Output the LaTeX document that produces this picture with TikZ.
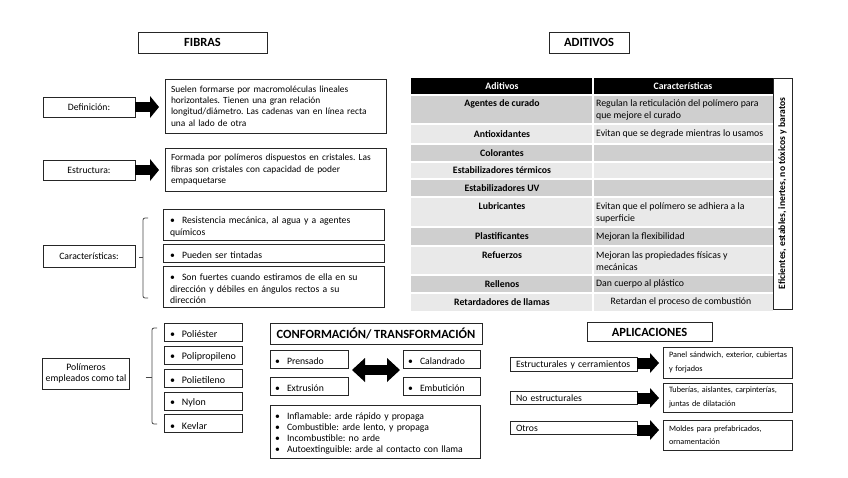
\documentclass[tikz,border=0pt]{standalone}
\usepackage{fontspec}
\setmainfont{Carlito}
\usetikzlibrary{arrows.meta}
\newcommand\bitem[1]{\par\hangindent=12pt\hangafter=1\noindent\makebox[12pt][l]{\textbullet}#1}
\definecolor{rowdark}{HTML}{CFCFCF}
\definecolor{rowlight}{HTML}{E9E9E9}
\definecolor{edge}{HTML}{262626}
\tikzset{
 bx/.style={draw=edge, line width=0.8pt, font=\fontsize{9.7}{11.3}\selectfont, inner ysep=0pt, outer sep=0pt},
 ttl/.style={bx, font=\fontsize{12.5}{14}\selectfont\bfseries, align=center},
 cbox/.style={bx, align=center},
 lbox/.style={bx, align=left},
 rbox/.style={lbox, font=\fontsize{8.2}{13.5}\selectfont, inner xsep=6pt, text width=117pt},
 brk/.style={draw=edge!85, line width=0.8pt, rounded corners=2pt},
 cellb/.style={font=\fontsize{9.8}{12}\selectfont\bfseries, inner sep=0pt},
 cellr/.style={font=\fontsize{9.8}{12}\selectfont, inner sep=0pt, align=left, anchor=west},
 bigarrow/.style={draw=black, line width=10pt, -{Triangle[length=9pt,width=22pt,line width=0pt]}, shorten >=6pt},
 apparrow/.style={draw=black, line width=11pt, -{Triangle[length=9pt,width=20pt,line width=0pt]}, shorten >=4pt},
 dblarrow/.style={draw=black, line width=10pt, {Triangle[length=13pt,width=24pt,line width=0pt]}-{Triangle[length=13pt,width=24pt,line width=0pt]}},
}
\begin{document}
\frenchspacing
\begin{tikzpicture}[x=1pt,y=-1pt]
\useasboundingbox[fill=white] (0,0) rectangle (848,477);

% ---------- titles
\node[ttl, minimum width=129pt, minimum height=21pt] (fibras) at (202.5,42.5) {FIBRAS};
\node[ttl, minimum width=80pt, minimum height=21pt] (aditivos) at (589,42.5) {ADITIVOS};

% ---------- Definicion
\node[cbox, minimum width=92pt, minimum height=20pt] (deflab) at (89,107) {Definición:};
\node[lbox, font=\fontsize{9.4}{11.3}\selectfont, inner xsep=6pt, text width=209pt, minimum height=54pt] (deftxt) at (275.5,106)
 {Suelen formarse por macromoléculas lineales\\horizontales. Tienen una gran relación\\longitud/diámetro. Las cadenas van en línea recta\\una al lado de otra};
\draw[bigarrow] (deflab.east) -- (deflab.east -| deftxt.west);

% ---------- Estructura
\node[cbox, minimum width=92pt, minimum height=20pt] (estlab) at (89,170) {Estructura:};
\node[lbox, font=\fontsize{9.4}{11.3}\selectfont, inner xsep=6pt, text width=209pt, minimum height=43pt] (esttxt) at (275.5,169.5)
 {Formada por polímeros dispuestos en cristales. Las\\fibras son cristales con capacidad de poder\\empaquetarse};
\draw[bigarrow] (estlab.east) -- (estlab.east -| esttxt.west);

% ---------- Caracteristicas
\node[cbox, minimum width=92pt, minimum height=22pt] (carlab) at (89,256) {Características:};
\node[lbox, font=\fontsize{9.7}{11.5}\selectfont, inner xsep=7pt, text width=207pt, minimum height=31pt] (c1) at (273.5,224.5)
 {\bitem{Resistencia mecánica, al agua y a agentes\\químicos}};
\node[lbox, inner xsep=7pt, text width=207pt, minimum height=18pt] (c2) at (273.5,253)
 {\bitem{Pueden ser tintadas}};
\node[lbox, font=\fontsize{9.7}{11.5}\selectfont, inner xsep=7pt, text width=207pt, minimum height=41pt] (c3) at (273.5,286.5)
 {\bitem{Son fuertes cuando estiramos de ella en su\\dirección y débiles en ángulos rectos a su\\dirección}};
\coordinate (cbt) at (148,218);
\coordinate (cbb) at (148,298);
\coordinate (cbm) at (143,257);
\draw[brk] (cbt) -- (143,218) -- (143,298) -- (cbb);
\draw[brk] (carlab.east) ++(4,1) -- (cbm);

% ---------- Polimeros
\node[cbox, minimum width=86pt, minimum height=31pt, font=\fontsize{9.8}{11.5}\selectfont] (pollab) at (86,373.5) {Polímeros\\empleados como tal};
\foreach \nm/\yy/\tx in {p1/332/Poliéster, p2/355/Polipropileno, p3/378/Polietileno, p4/401/Nylon, p5/423.5/Kevlar}{
 \node[lbox, font=\fontsize{10}{11.5}\selectfont, inner xsep=6pt, text width=66pt, minimum height=18pt] (\nm) at (203,\yy) {\bitem{\tx}};
}
\coordinate (pbt) at (157,328);
\coordinate (pbb) at (157,424);
\coordinate (pbm) at (152,377);
\draw[brk] (pbt) -- (152,328) -- (152,424) -- (pbb);
\draw[brk] (pollab.east) ++(16,3.5) -- (pbm);

% ---------- Conformacion
\node[ttl, minimum width=212pt, minimum height=21pt] (conf) at (376,333.5) {CONFORMACIÓN/ TRANSFORMACIÓN};
\node[lbox, inner xsep=5pt, text width=68pt, minimum height=18pt] (pren) at (309,359) {\bitem{Prensado}};
\node[lbox, inner xsep=5pt, text width=68pt, minimum height=18pt] (extr) at (309,386) {\bitem{Extrusión}};
\node[lbox, inner xsep=5pt, text width=67pt, minimum height=18pt] (cal) at (441.5,359) {\bitem{Calandrado}};
\node[lbox, inner xsep=5pt, text width=67pt, minimum height=18pt] (emb) at (441.5,386) {\bitem{Embutición}};
\coordinate (dl) at (352,370);
\coordinate (dr) at (400,370);
\draw[dblarrow] (dl) -- (dr);
\node[lbox, font=\fontsize{9.7}{10.8}\selectfont, inner xsep=5pt, text width=200pt, minimum height=53pt] (comb) at (375,431.5)
 {\bitem{Inflamable: arde rápido y propaga}\bitem{Combustible: arde lento, y propaga}\bitem{Incombustible: no arde}\bitem{Autoextinguible: arde al contacto con llama}};

% ---------- Aplicaciones
\node[ttl, minimum width=125pt, minimum height=19pt] (aplic) at (649.5,332) {APLICACIONES};
\node[lbox, inner xsep=6pt, text width=115pt, minimum height=14pt] (ap1) at (573.5,364.5) {Estructurales y cerramientos};
\node[lbox, inner xsep=6pt, text width=115pt, minimum height=13pt] (ap2) at (573.5,398) {No estructurales};
\node[lbox, inner xsep=6pt, text width=115pt, minimum height=13pt] (ap3) at (573.5,428) {Otros};
\node[rbox, minimum height=31pt] (r1) at (727.5,362.5) {\mbox{Panel sándwich, exterior, cubiertas}\\\mbox{y forjados}};
\node[rbox, minimum height=29pt] (r2) at (727.5,397.5) {\mbox{Tuberías, aislantes, carpinterías,}\\\mbox{juntas de dilatación}};
\node[rbox, minimum height=30pt] (r3) at (727.5,435) {\mbox{Moldes para prefabricados,}\\\mbox{ornamentación}};
\draw[apparrow] (ap1.east) ++(0,-1.5) coordinate (a1s) -- (a1s -| r1.west);
\draw[apparrow] (ap2.east) -- (ap2.east -| r2.west);
\draw[apparrow] (ap3.east) ++(0,2) coordinate (a3s) -- (a3s -| r3.west);

% ---------- Table
\fill[black] (411,78) rectangle (773,95);
\fill[rowdark]  (411,95) rectangle (773,124);
\fill[rowlight] (411,124) rectangle (773,144);
\fill[rowdark]  (411,144) rectangle (773,162);
\fill[rowlight] (411,162) rectangle (773,179);
\fill[rowdark]  (411,179) rectangle (773,197);
\fill[rowlight] (411,197) rectangle (773,227);
\fill[rowdark]  (411,227) rectangle (773,246);
\fill[rowlight] (411,246) rectangle (773,275);
\fill[rowdark]  (411,275) rectangle (773,293);
\fill[rowlight] (411,293) rectangle (773,311);
\foreach \yy in {95,124,144,162,179,197,227,246,275,293}{
 \draw[white, line width=1.2pt] (411,\yy) -- (773,\yy);
}
\draw[white, line width=1.2pt] (593,78) -- (593,311);
\node[cellb, text=white] (hA) at (502,86.5) {Aditivos};
\node[cellb, text=white] (hC) at (683,86.5) {Características};

\node[cellb] (t1) at (502,104) {Agentes de curado};
\node[cellr] (u1) at (596,109.5) {Regulan la reticulación del polímero para\\que mejore el curado};
\node[cellb] (t2) at (502,134) {Antioxidantes};
\node[cellr] (u2) at (596,134) {Evitan que se degrade mientras lo usamos};
\node[cellb] (t3) at (502,153) {Colorantes};
\node[cellb] (t4) at (502,170.5) {Estabilizadores térmicos};
\node[cellb] (t5) at (502,188) {Estabilizadores UV};
\node[cellb] (t6) at (502,206.5) {Lubricantes};
\node[cellr] (u6) at (596,212.5) {Evitan que el polímero se adhiera a la\\superficie};
\node[cellb] (t7) at (502,236.5) {Plastificantes};
\node[cellr] (u7) at (596,236.5) {Mejoran la flexibilidad};
\node[cellb] (t8) at (502,255) {Refuerzos};
\node[cellr] (u8) at (596,261) {Mejoran las propiedades físicas y\\mecánicas};
\node[cellb] (t9) at (502,284) {Rellenos};
\node[cellr] (u9) at (596,284) {Dan cuerpo al plástico};
\node[cellb] (t10) at (502,302) {Retardadores de llamas};
\node[cellr, anchor=center] (u10) at (681,302) {Retardan el proceso de combustión};

\node[bx, minimum width=19pt, minimum height=231pt, inner sep=0pt] (vbox) at (782.5,193.5) {};
\node[rotate=90, font=\fontsize{9.6}{11}\selectfont\bfseries, inner sep=0pt] (vtxt) at (vbox.center) {Eficientes, estables, inertes, no tóxicos y baratos};
\end{tikzpicture}
\end{document}
